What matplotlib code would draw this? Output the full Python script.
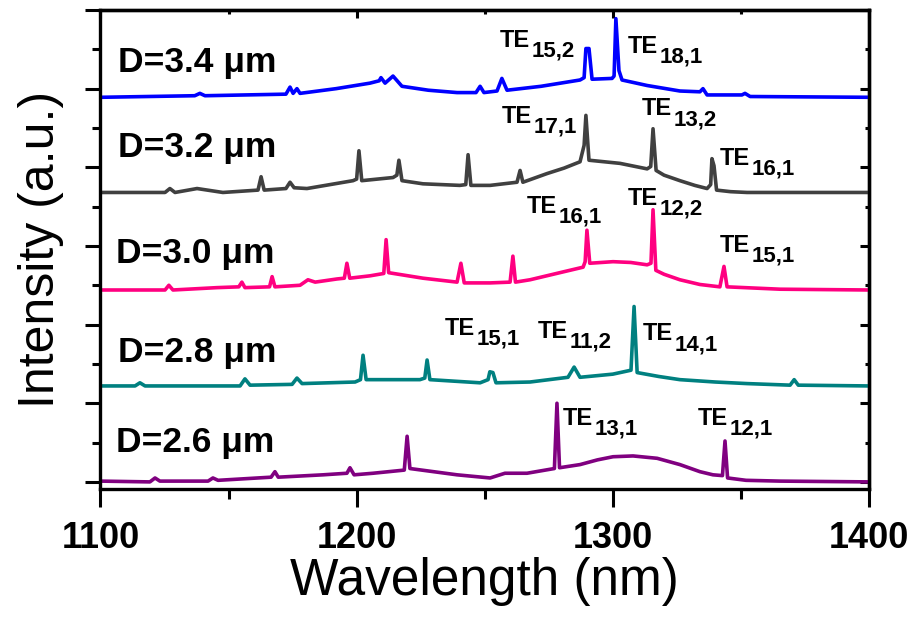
import matplotlib.pyplot as plt
from matplotlib.ticker import MultipleLocator
from matplotlib.transforms import offset_copy

plt.rcParams['font.family'] = ['Liberation Sans', 'DejaVu Sans']

# PL spectra of the microdisks, one list pair per diameter.
# Wavelength in nm, intensity above each trace's own baseline (a.u.).
WL_26 = [1100, 1119.3, 1121.3, 1123.2, 1142.0, 1143.9, 1145.9, 1166.6, 1168.1, 1169.4,
         1186.9, 1196.2, 1197.4, 1199.0, 1206.4, 1218.6, 1219.7, 1220.8, 1239.2, 1252.1,
         1257.9, 1266.5, 1277.2, 1278.2, 1279.2, 1287.2, 1294.0, 1300.1, 1307.9, 1317.3,
         1326.2, 1334.0, 1339.1, 1342.8, 1343.8, 1344.8, 1352.0, 1365.3, 1400]
I_26 = [0.01, 0.0, 0.05, 0.01, 0.01, 0.05, 0.02, 0.06, 0.13, 0.06,
        0.09, 0.11, 0.18, 0.09, 0.11, 0.15, 0.58, 0.17, 0.09, 0.05,
        0.11, 0.11, 0.17, 1.00, 0.18, 0.22, 0.28, 0.32, 0.33, 0.30,
        0.22, 0.13, 0.09, 0.08, 0.52, 0.05, 0.02, 0.01, 0.0]

WL_28 = [1100, 1113.5, 1115.4, 1117.4, 1154.5, 1156.4, 1158.4, 1174.8, 1176.7, 1178.7,
         1199.4, 1201.5, 1202.5, 1203.7, 1224.7, 1226.6, 1227.5, 1228.6, 1248.2, 1251.3,
         1252.0, 1253.2, 1254.4, 1267.7, 1282.5, 1284.9, 1287.2, 1300.0, 1307.1, 1308.3,
         1309.5, 1318.0, 1326.2, 1340.0, 1352.4, 1369.2, 1370.8, 1372.4, 1400]
I_28 = [0.0, 0.0, 0.04, 0.0, 0.0, 0.09, 0.01, 0.02, 0.10, 0.03,
        0.05, 0.08, 0.39, 0.08, 0.08, 0.10, 0.33, 0.08, 0.04, 0.08,
        0.18, 0.17, 0.04, 0.05, 0.11, 0.24, 0.11, 0.15, 0.20, 1.01,
        0.17, 0.12, 0.08, 0.05, 0.03, 0.01, 0.08, 0.01, 0.0]

WL_30 = [1100, 1125.2, 1126.7, 1128.3, 1145.5, 1154.0, 1155.2, 1156.4, 1166.0, 1167.0,
         1168.1, 1177.9, 1181.0, 1183.8, 1192.3, 1195.2, 1196.2, 1197.3, 1205.2, 1210.6,
         1211.5, 1212.5, 1225.9, 1239.2, 1240.7, 1242.0, 1252.1, 1259.9, 1261.0, 1262.0,
         1267.7, 1280.6, 1288.4, 1289.2, 1289.9, 1291.0, 1300.1, 1307.0, 1313.4, 1314.9,
         1315.7, 1316.8, 1320.0, 1326.2, 1334.0, 1341.8, 1343.4, 1344.6, 1365.3, 1400]
I_30 = [0.0, 0.0, 0.06, 0.0, 0.03, 0.04, 0.10, 0.03, 0.04, 0.17,
        0.04, 0.06, 0.13, 0.10, 0.14, 0.15, 0.34, 0.15, 0.18, 0.21,
        0.64, 0.22, 0.15, 0.10, 0.34, 0.09, 0.09, 0.10, 0.43, 0.10,
        0.13, 0.23, 0.29, 0.36, 0.76, 0.34, 0.36, 0.35, 0.32, 0.34,
        1.02, 0.25, 0.20, 0.13, 0.07, 0.04, 0.30, 0.04, 0.01, 0.0]

WL_32 = [1100, 1125.2, 1127.1, 1129.1, 1137.7, 1147.8, 1161.5, 1162.7, 1163.9, 1172.4,
         1174.0, 1175.6, 1180.6, 1198.6, 1200.0, 1200.9, 1202.0, 1214.2, 1215.7, 1216.5,
         1217.7, 1225.9, 1240.3, 1242.6, 1243.5, 1244.6, 1252.1, 1262.6, 1263.8, 1264.9,
         1274.3, 1281.0, 1287.2, 1288.8, 1289.5, 1290.7, 1302.8, 1313.4, 1314.8, 1315.7,
         1316.9, 1320.0, 1326.2, 1332.0, 1336.8, 1338.2, 1338.7, 1339.5, 1340.5, 1346.0,
         1352.4, 1400]
I_32 = [0.0, 0.0, 0.05, 0.0, 0.05, 0.0, 0.03, 0.20, 0.03, 0.05,
        0.13, 0.06, 0.05, 0.15, 0.17, 0.53, 0.15, 0.19, 0.22, 0.41,
        0.15, 0.11, 0.09, 0.10, 0.48, 0.09, 0.09, 0.13, 0.28, 0.13,
        0.24, 0.31, 0.39, 0.60, 0.98, 0.41, 0.37, 0.30, 0.33, 0.81,
        0.28, 0.22, 0.15, 0.09, 0.05, 0.10, 0.43, 0.34, 0.03, 0.01,
        0.0, 0.0]

WL_34 = [1100, 1136.8, 1138.8, 1140.8, 1172.4, 1174.0, 1175.2, 1176.7, 1177.9, 1192.0,
         1205.2, 1208.8, 1209.5, 1211.1, 1214.2, 1217.7, 1228.0, 1239.2, 1246.6, 1248.2,
         1249.7, 1254.8, 1256.7, 1258.7, 1272.0, 1287.2, 1288.8, 1289.5, 1290.7, 1291.9,
         1299.7, 1300.5, 1301.2, 1302.4, 1303.6, 1313.4, 1326.2, 1334.0, 1335.2, 1336.8,
         1350.4, 1351.6, 1353.6, 1400]
I_34 = [0.0, 0.02, 0.05, 0.02, 0.04, 0.13, 0.05, 0.11, 0.05, 0.11,
        0.18, 0.21, 0.25, 0.18, 0.27, 0.14, 0.09, 0.06, 0.06, 0.14,
        0.06, 0.08, 0.24, 0.09, 0.14, 0.22, 0.25, 0.62, 0.62, 0.23,
        0.24, 0.27, 1.00, 0.34, 0.22, 0.15, 0.08, 0.07, 0.11, 0.03,
        0.03, 0.05, 0.01, 0.0]

SPECTRA = [(WL_26, I_26), (WL_28, I_28), (WL_30, I_30), (WL_32, I_32), (WL_34, I_34)]
DIAMETERS = ["2.6", "2.8", "3.0", "3.2", "3.4"]
OFFSETS = [0.0, 1.22, 2.44, 3.68, 4.89]
COLORS = ["#800080", "#008080", "#FF0080", "#404040", "#0000FF"]

# whispering-gallery mode assignments
MODE_IDX = ["15,2", "18,1", "17,1", "13,2", "16,1", "16,1", "12,2", "15,1",
            "15,1", "11,2", "14,1", "13,1", "12,1"]
MODE_X = [1256.0, 1305.9, 1256.7, 1311.4, 1341.8, 1266.5, 1305.9, 1341.8,
          1234.5, 1270.8, 1311.8, 1280.6, 1333.3]
MODE_Y = [5.53, 5.45, 4.56, 4.66, 4.03, 3.42, 3.52, 2.92,
          1.87, 1.83, 1.80, 0.72, 0.72]

LABEL_X = [1106.0, 1107.0, 1106.0, 1107.0, 1107.0]
LABEL_Y = [0.38, 1.52, 2.78, 4.13, 5.21]

fig = plt.figure(figsize=(9.15, 6.21), dpi=100)
ax = fig.add_axes([0.1098, 0.2126, 0.8399, 0.7713])

for (wl, inten), off, col in zip(SPECTRA, OFFSETS, COLORS):
    ax.plot(wl, [v + off for v in inten], color=col, lw=2.6,
            solid_joinstyle="round", solid_capstyle="round")

for d, x, y in zip(DIAMETERS, LABEL_X, LABEL_Y):
    ax.text(x, y, f"D={d} μm", fontsize=25.5, fontweight="bold", va="baseline")

for idx, x, y in zip(MODE_IDX, MODE_X, MODE_Y):
    ax.text(x, y, "TE", fontsize=17, fontweight="bold", va="baseline")
    tr = offset_copy(ax.transData, fig=fig, x=22.5, y=-7, units="points")
    ax.text(x, y, idx, transform=tr, fontsize=16, fontweight="bold", va="baseline")

ax.set_xlim(1100, 1400)
ax.set_ylim(-0.09, 6.0)
ax.set_xticks([1100, 1200, 1300, 1400])
ax.xaxis.set_minor_locator(MultipleLocator(50))
ax.yaxis.set_major_locator(MultipleLocator(1))
ax.yaxis.set_minor_locator(MultipleLocator(0.5))
ax.set_yticklabels([])
ax.tick_params(axis="x", which="major", direction="out", length=13, width=2.2,
               labelsize=26, pad=10)
ax.tick_params(axis="x", which="minor", direction="out", length=7, width=2.2)
ax.tick_params(axis="y", which="major", direction="out", length=11, width=2.2)
ax.tick_params(axis="y", which="minor", direction="out", length=6, width=2.2)
for lbl in ax.get_xticklabels():
    lbl.set_fontweight("bold")
for sp in ax.spines.values():
    sp.set_linewidth(2.4)

# mirrored inward ticks on top and right
top = ax.secondary_xaxis("top")
top.set_xticks([1100, 1200, 1300, 1400])
top.xaxis.set_minor_locator(MultipleLocator(50))
top.tick_params(which="major", direction="in", length=6, width=2.2, labeltop=False)
top.tick_params(which="minor", direction="in", length=3, width=2.2)
right = ax.secondary_yaxis("right")
right.yaxis.set_major_locator(MultipleLocator(1))
right.yaxis.set_minor_locator(MultipleLocator(0.5))
right.tick_params(which="major", direction="in", length=6.5, width=2.2, labelright=False)
right.tick_params(which="minor", direction="in", length=3, width=2.2)
for sec in (top, right):
    for sp in sec.spines.values():
        sp.set_linewidth(2.4)

ax.set_xlabel("Wavelength (nm)", fontsize=37, labelpad=1)
ax.set_ylabel("Intensity (a.u.)", fontsize=36, labelpad=12)

fig.savefig("out.png", dpi=100)
